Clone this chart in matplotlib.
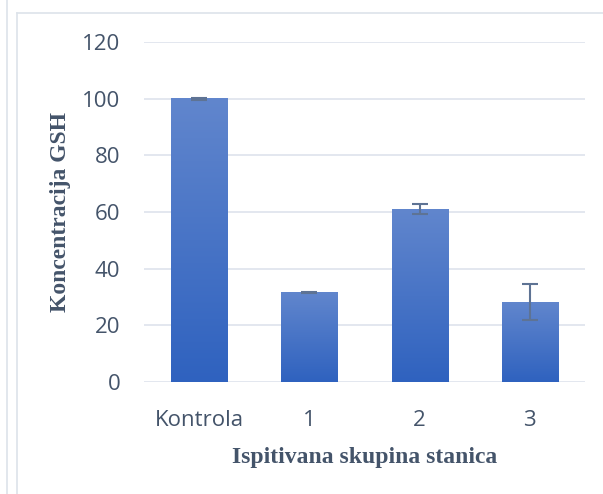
import numpy as np
import matplotlib.pyplot as plt
from matplotlib.lines import Line2D
from matplotlib.colors import LinearSegmentedColormap

# data
categories = ['Kontrola', '1', '2', '3']
values = [100, 31.5, 61, 28.2]
errors = [0.3, 0.2, 1.8, 6.3]
yticks = [0, 20, 40, 60, 80, 100, 120]

tick_color = '#44546A'
grid_color = '#DEE3EC'

fig = plt.figure(figsize=(6.03, 4.94), dpi=100)
ax = fig.add_axes([144 / 603, 1 - 382 / 494, 441 / 603, 340 / 494])

x = np.arange(len(categories))
bars = ax.bar(x, values, width=0.51, color='none', zorder=2)

# vertical gradient fill in each bar, lighter on top
grad_cmap = LinearSegmentedColormap.from_list('g', ['#2F62BF', '#6186CD'])
grad = np.linspace(0, 1, 256).reshape(-1, 1)
for b in bars:
    x0, w, h = b.get_x(), b.get_width(), b.get_height()
    ax.imshow(grad, cmap=grad_cmap, aspect='auto', origin='lower',
              extent=(x0, x0 + w, 0, h), zorder=2)

ax.errorbar(x, values, yerr=errors, fmt='none', ecolor='#5E7394',
            elinewidth=1.5, capsize=5.5, capthick=1.5, zorder=3)

ax.set_xlim(-0.5, len(categories) - 0.5)
ax.set_ylim(0, 120)
ax.set_yticks(yticks)
ax.set_xticks(x)
ax.set_xticklabels(categories)
ax.yaxis.grid(True, color=grid_color, linewidth=1.2, zorder=0)
ax.set_axisbelow(True)
for s in ax.spines.values():
    s.set_visible(False)
ax.tick_params(length=0, labelsize=16, colors=tick_color, labelfontfamily='Open Sans')
ax.tick_params(axis='y', pad=17)
ax.tick_params(axis='x', pad=20)

serif = dict(family='Liberation Serif', weight='bold', size=17, color=tick_color)
ax.set_ylabel('Koncentracija GSH', labelpad=8, **serif)
ax.set_xlabel('Ispitivana skupina stanica', labelpad=12, **serif)

# page / chart frame lines
fig.add_artist(Line2D([6.5 / 603, 6.5 / 603], [0, 1], color='#DDE3EA', lw=1.2))
fig.add_artist(Line2D([16.5 / 603, 16.5 / 603], [0, 1 - 13 / 494], color='#DDE3EA', lw=1.2))
fig.add_artist(Line2D([16.5 / 603, 1], [1 - 13 / 494, 1 - 13 / 494], color='#DDE3EA', lw=1.2))

fig.savefig('out.png', dpi=100)
